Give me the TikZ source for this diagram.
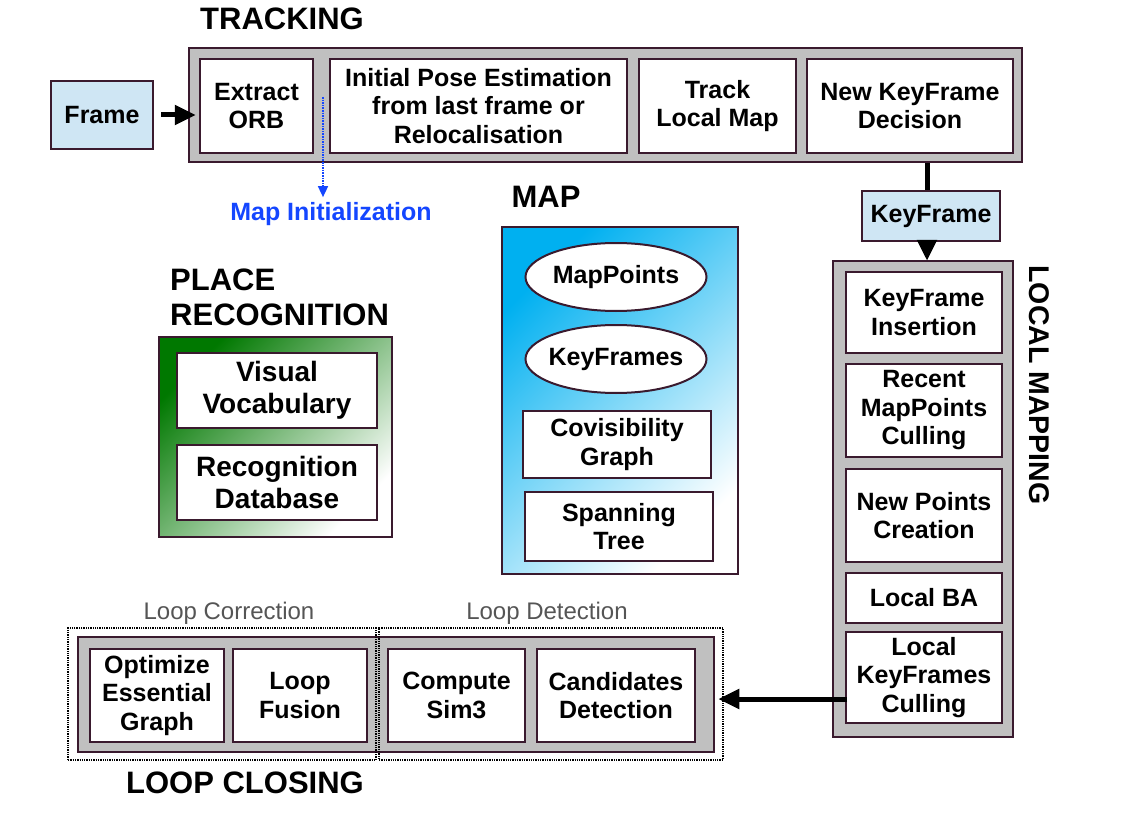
\documentclass[tikz,border=0pt]{standalone}
\usepackage{fontspec}
\setmainfont{Liberation Sans}
\usetikzlibrary{arrows.meta,shapes.geometric}
\definecolor{bd}{RGB}{58,26,46}
\definecolor{grayfill}{RGB}{192,192,192}
\definecolor{lblue}{RGB}{207,230,244}
\definecolor{mapblue}{RGB}{0,176,240}
\definecolor{pgreen}{RGB}{0,120,0}
\definecolor{miblue}{RGB}{20,70,255}
\definecolor{subgray}{RGB}{85,85,85}
\begin{document}
\begin{tikzpicture}[x=1pt,y=-1pt,
 every node/.style={font=\fontsize{25}{28.5}\selectfont\bfseries, align=center, inner sep=0pt},
 corners/.style n args={4}{minimum width={(#3-#1)*1pt}, minimum height={(#4-#2)*1pt}, at={({(#1+#3)/2},{(#2+#4)/2})}},
 wbox/.style={draw=bd, line width=2.5pt, fill=white},
 gbox/.style={draw=bd, line width=2.5pt, fill=grayfill},
 framebox/.style={draw=bd, line width=2.5pt, fill=lblue},
 title/.style={font=\fontsize{31}{35}\selectfont\bfseries},
 sub/.style={font=\fontsize{24}{28}\selectfont, text=subgray},
 dotbox/.style={draw=black, densely dotted, line width=1.3pt},
 bigarrow/.style={line width=5pt, -{Triangle[length=21pt,width=19pt]}},
 prfont/.style={font=\fontsize{28}{32}\selectfont\bfseries},
 ell/.style={draw=bd, fill=white, ellipse, line width=2pt, minimum width=181pt, minimum height=68pt},
]
\useasboundingbox (0,0) rectangle (1125,824);

% TRACKING
\node[title] (ttrack) at (282,19) {TRACKING};
\node[gbox, corners={189}{48}{1022}{162}] (tracking) {};
\node[wbox, corners={200}{59}{313}{153}] (orb) {Extract\\ORB};
\node[wbox, corners={330}{59}{627}{153}] (pose) {Initial Pose Estimation\\from last frame or\\Relocalisation};
\node[wbox, corners={639}{59}{796}{153}] (tlm) {Track\\Local Map};
\node[wbox, corners={807}{59}{1013}{153}] (nkd) {New KeyFrame\\Decision};
\node[framebox, corners={51}{81}{153}{149}] (frame) {Frame};
\draw[bigarrow, shorten <=7pt, shorten >=3pt] (frame.east) -- (frame.east -| orb.west);

% Map initialization
\node[text=miblue] (mapinit) at (331,214) {Map Initialization};
\coordinate (mistart) at (323,97);
\draw[miblue, line width=1.6pt, densely dotted, -{Triangle[length=11pt,width=10pt]}, shorten >=5pt] (mistart) -- (mistart |- mapinit.north);

% KeyFrame
\node[framebox, corners={862}{191}{1000}{241}] (kf) {KeyFrame};
\draw[line width=5pt] ([xshift=-4pt]kf.north |- tracking.south) -- ([xshift=-4pt]kf.north);

% LOCAL MAPPING
\node[gbox, corners={833}{261}{1013}{737}] (lm) {};
\node[wbox, corners={846}{272}{1002}{353}] (kfi) {KeyFrame\\Insertion};
\node[wbox, corners={846}{364}{1002}{457}] (rmc) {Recent\\MapPoints\\Culling};
\node[wbox, corners={846}{469}{1002}{562}] (npc) {New Points\\Creation};
\node[wbox, corners={846}{573}{1002}{623}] (lba) {Local BA};
\node[wbox, corners={846}{632}{1002}{723}] (lkc) {Local\\KeyFrames\\Culling};
\node[font=\fontsize{28.5}{32}\selectfont\bfseries, rotate=-90] (tlmap) at (1039,385) {LOCAL MAPPING};
\draw[bigarrow, shorten >=-1pt] ([xshift=-4pt]kf.south) -- ([xshift=-4pt]kf.south |- lm.north);

% PLACE RECOGNITION
\node[title, anchor=west] (tpr1) at (170,280) {PLACE};
\node[title, anchor=west] (tpr2) at (170,315) {RECOGNITION};
\node[draw=bd, line width=2.5pt, top color=pgreen, bottom color=white, shading angle=45, corners={159}{337}{392}{537}] (pr) {};
\node[wbox, prfont, corners={177}{353}{377}{428}] (vv) {Visual\\Vocabulary};
\node[wbox, prfont, corners={177}{445}{377}{520}] (rdb) {Recognition\\Database};

% MAP
\node[title] (tmap) at (546,197) {MAP};
\node[draw=bd, line width=2.5pt, top color=mapblue, bottom color=white, shading angle=45, corners={502}{227}{738}{574}] (map) {};
\node[ell] (mp) at (616,277) {\makebox[0pt]{MapPoints}};
\node[ell] (kfs) at (616,359) {\makebox[0pt]{KeyFrames}};
\node[wbox, corners={523}{411}{711}{478}] (cov) {Covisibility\\Graph};
\node[wbox, corners={525}{492}{713}{561}] (st) {Spanning\\Tree};

% LOOP CLOSING
\node[sub] (tcorr) at (229,613) {Loop Correction};
\node[sub] (tdet) at (547,613) {Loop Detection};
\node[gbox, corners={78}{637}{714}{752}] (lc) {};
\node[dotbox, corners={68}{628}{376}{760}] (lcorr) {};
\node[dotbox, corners={379}{628}{723}{760}] (ldet) {};
\node[wbox, corners={90}{649}{224}{742}] (oeg) {Optimize\\Essential\\Graph};
\node[wbox, corners={233}{649}{367}{742}] (lf) {Loop\\Fusion};
\node[wbox, corners={388}{649}{525}{742}] (cs) {Compute\\Sim3};
\node[wbox, corners={537}{649}{695}{742}] (cd) {Candidates\\Detection};
\node[title] (tlc) at (245,783) {LOOP CLOSING};
\coordinate (lmout) at (847,699);
\draw[bigarrow, shorten >=3pt] (lmout) -- (lmout -| lc.east);
\end{tikzpicture}
\end{document}
